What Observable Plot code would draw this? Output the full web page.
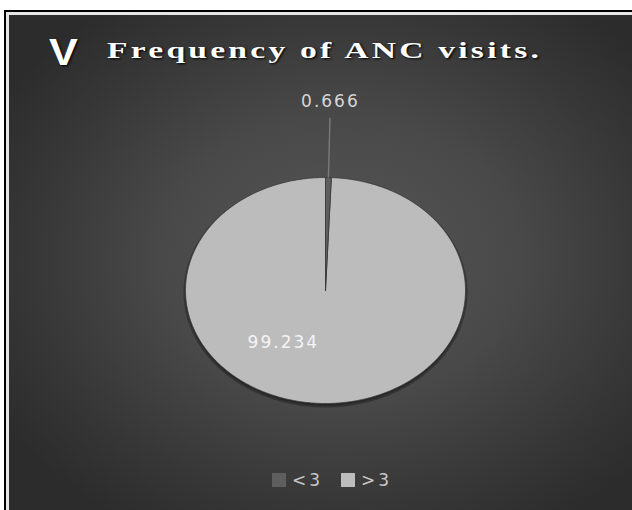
<!DOCTYPE html>
<html>
<head>
<meta charset="utf-8">
<script src="https://cdn.jsdelivr.net/npm/d3@7"></script>
<script src="https://cdn.jsdelivr.net/npm/@observablehq/plot@0.6"></script>
<style>
  html, body { margin: 0; padding: 0; background: #fff; }
  #page { position: relative; width: 632px; height: 510px; overflow: hidden; background: #fff; }
  #frame { position: absolute; left: 4px; top: 10px; width: 640px; height: 510px;
           border-left: 2px solid #000; border-top: 2px solid #000; }
  #panel { position: absolute; left: 0; top: 0; right: 0; bottom: 0;
           border-left: 3px solid #e6e6e6; border-top: 3px solid #e6e6e6;
           background: radial-gradient(ellipse 62% 62% at 52% 48%, #565656 0%, #494949 45%, #363636 80%, #2c2c2c 100%); }
  #titleV { position: absolute; left: 49px; top: 35px; line-height: 36px; font-size: 36px;
            font-family: "Liberation Sans", Arial, sans-serif; font-weight: bold; color: #fff;
            transform: scaleX(1.2); transform-origin: left center; white-space: nowrap;
            text-shadow: 1px 1px 2px #000; }
  #titleT { position: absolute; left: 107px; top: 38px; line-height: 24px; font-size: 24px;
            font-family: "Liberation Serif", "Times New Roman", serif; font-weight: bold; color: #fff;
            letter-spacing: 2.3px; transform: scaleX(1.4); transform-origin: left center; white-space: nowrap;
            text-shadow: 1px 1px 2px #000; }
  #chart { position: absolute; left: 0; top: 80px; }
  #chart svg text { font-family: "DejaVu Sans", sans-serif; letter-spacing: 2px; }
  #legend { position: absolute; left: 272px; top: 463px; }
  #legend div, #legend span { font-family: "DejaVu Sans", sans-serif !important; font-size: 17px !important;
            color: #c8c8c8 !important; letter-spacing: 3px; }
</style>
</head>
<body>
<div id="page">
  <div id="frame"><div id="panel"></div></div>
  <div id="titleV"></div>
  <div id="titleT"></div>
  <div id="chart"></div>
  <div id="legend"></div>
</div>
<script>
// ---- data ----
const categories = ["<3", ">3"];
const values = [0.666, 99.234];
const valueLabels = ["0.666", "99.234"];
const colors = ["#5e5e5e", "#bcbcbc"];
const titleMark = "V";
const titleText = "Frequency of ANC visits.";

// ---- layout constants (label placement, unit-circle coordinates) ----
const labelLayout = [
  {r: 1.67, turnDeg: 0, fill: "#d6d6d6", leader: [1.0, 1.53]},
  {r: 0.55, turnDeg: 32, fill: "#f4f4f4", leader: null}
];

document.getElementById("titleV").textContent = titleMark;
document.getElementById("titleT").textContent = titleText;

// pie angles: 0 at 12 o'clock, clockwise
const arcs = d3.pie().sort(null).value(d => d)(values);
const deg = Math.PI / 180;

// polygon points for each slice (big slice first so sliver is on top)
const slicePts = [];
arcs.map((p, i) => ({p, i})).reverse().forEach(({p, i}) => {
  const k = categories[i];
  const n = Math.max(3, Math.ceil((p.endAngle - p.startAngle) / (0.5 * deg)) + 1);
  slicePts.push({k, x: 0, y: 0});
  for (let j = 0; j < n; j++) {
    const a = p.startAngle + (p.endAngle - p.startAngle) * j / (n - 1);
    slicePts.push({k, x: Math.sin(a), y: Math.cos(a)});
  }
  slicePts.push({k, x: 0, y: 0});
});

// outline for a soft shadow
const outline = d3.range(0, 361, 2).map(t => ({x: Math.sin(t * deg), y: Math.cos(t * deg)}));

const labels = arcs.map((p, i) => {
  const L = labelLayout[i];
  const mid = (p.startAngle + p.endAngle) / 2 + L.turnDeg * deg;
  return {text: valueLabels[i], x: L.r * Math.sin(mid), y: L.r * Math.cos(mid), fill: L.fill};
});

const leaders = arcs.map((p, i) => {
  const L = labelLayout[i];
  if (!L.leader) return null;
  const mid = (p.startAngle + p.endAngle) / 2;
  return {x1: L.leader[0] * Math.sin(mid), y1: L.leader[0] * Math.cos(mid),
          x2: L.leader[1] * Math.sin(mid), y2: L.leader[1] * Math.cos(mid)};
}).filter(d => d);

const chart = Plot.plot({
  width: 632,
  height: 360,
  margin: 0,
  x: {domain: [-1, 1], range: [185, 465], axis: null},
  y: {domain: [-1, 1], range: [323, 97], axis: null},
  color: {domain: categories, range: colors},
  style: {background: "transparent", overflow: "visible"},
  marks: [
    Plot.line(outline, {x: "x", y: "y", dy: 2, fill: "#161616", fillOpacity: 0.45,
                        stroke: "#161616", strokeOpacity: 0.4, strokeWidth: 4}),
    Plot.line(slicePts, {x: "x", y: "y", z: "k", fill: "k", stroke: "#3a3a3a",
                         strokeWidth: 0.8, strokeLinejoin: "miter"}),
    Plot.link(leaders, {x1: "x1", y1: "y1", x2: "x2", y2: "y2", stroke: "#7a7a7a", strokeWidth: 1.4}),
    Plot.text(labels, {x: "x", y: "y", text: "text", fill: "fill", fontSize: 17})
  ]
});
document.getElementById("chart").appendChild(chart);

const legend = Plot.legend({
  color: {type: "ordinal", domain: categories, range: colors},
  swatchSize: 14,
  className: "lg"
});
document.getElementById("legend").appendChild(legend);
// tighten legend spacing
legend.style.margin = "0";
legend.querySelectorAll("span").forEach(s => { s.style.marginRight = "18px"; });
legend.querySelectorAll("svg").forEach(s => { s.style.marginRight = "6px"; });
</script>
</body>
</html>
